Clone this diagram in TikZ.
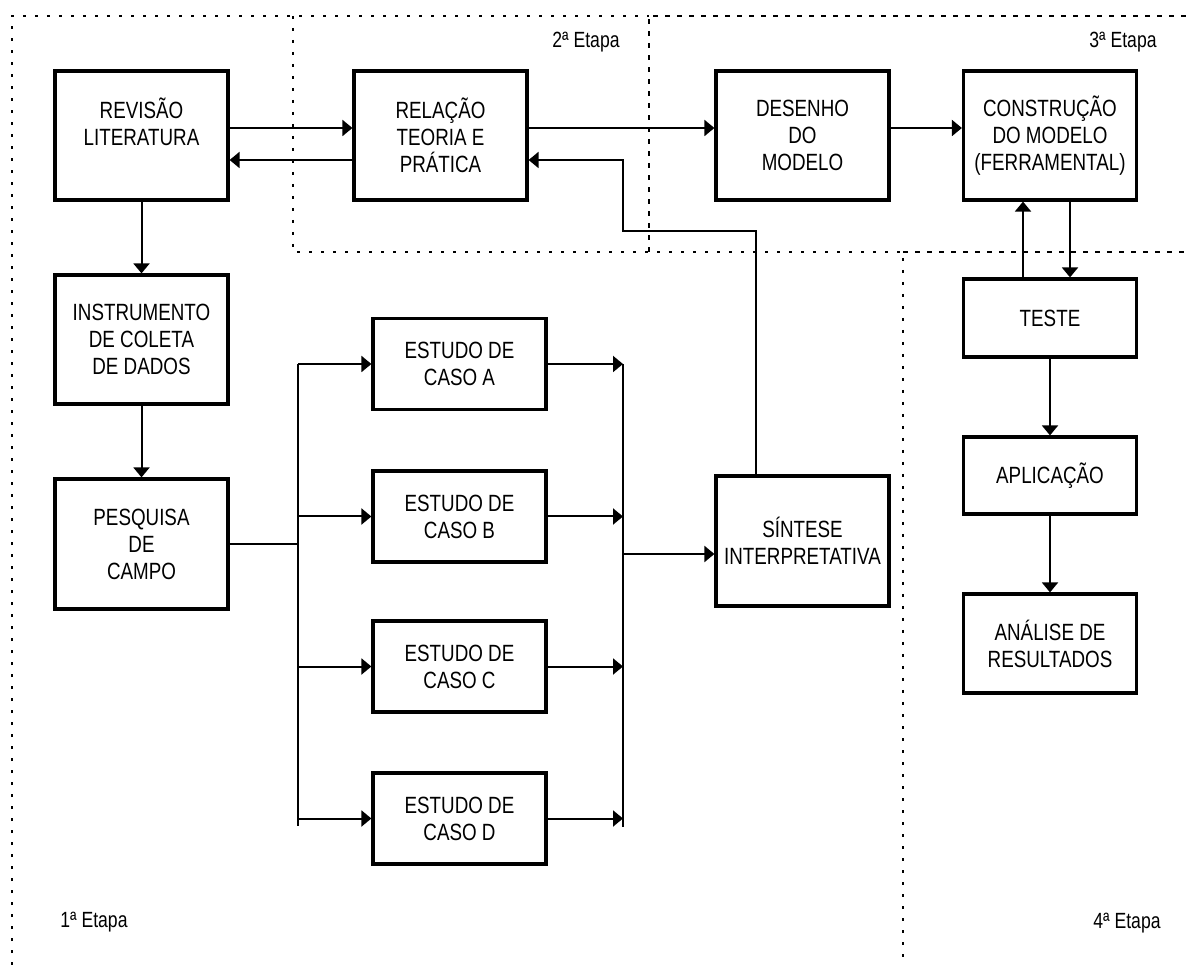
\documentclass[tikz,border=0pt]{standalone}
\usepackage{fontspec}
\setmainfont{Liberation Sans}[FakeStretch=0.8]
\usetikzlibrary{arrows.meta}

\begin{document}
\begin{tikzpicture}[x=1pt,y=-1pt,
        caixa/.style={draw,line width=3.2pt,minimum width=173pt,align=center,inner sep=2pt,
            font=\fontsize{23.5}{27}\selectfont},
        seta/.style={line width=2pt,-{Triangle[length=10pt,width=16pt]}},
        linha/.style={line width=2pt},
        pontos/.style={line width=2.6pt,dash pattern=on 2.6pt off 9.4pt},
        tracos/.style={line width=2.6pt,dash pattern=on 4.5pt off 7.5pt},
        etapa/.style={font=\fontsize{22}{26}\selectfont}]
            \useasboundingbox (0,0) rectangle (1187,965);
            % etapas
            \draw[pontos] (12,965) -- (12,16) -- (649,16);
            \draw[pontos] (293,16) -- (293,252) -- (903,252) -- (903,965);
            \draw[tracos] (649,252) -- (649,16) -- (1187,16);
            \draw[tracos] (903,252) -- (1187,252);
            \node[etapa] (e1) at (94,922) {1ª Etapa};
            \node[etapa] (e2) at (586,42) {2ª Etapa};
            \node[etapa] (e3) at (1123,42) {3ª Etapa};
            \node[etapa] (e4) at (1127,923) {4ª Etapa};
            % caixas
            \node[caixa,minimum height=129pt] (rev) at (141.5,135.5) {REVISÃO\\LITERATURA\\~};
            \node[caixa,minimum height=129pt] (rel) at (440.5,135.5) {RELAÇÃO\\TEORIA E\\PRÁTICA};
            \node[caixa,minimum height=129pt] (des) at (802.5,135.5) {DESENHO\\DO\\MODELO};
            \node[caixa,minimum height=129pt] (con) at (1050,135.5) {CONSTRUÇÃO\\DO MODELO\\(FERRAMENTAL)};
            \node[caixa,minimum height=129pt] (ins) at (141.5,339.5) {INSTRUMENTO\\DE COLETA\\DE DADOS};
            \node[caixa,minimum height=130pt] (pes) at (141.5,544) {PESQUISA\\DE\\CAMPO};
            \foreach \c/\y in {A/364,B/516.5,C/666.5,D/818.5}
                \node[caixa,minimum height=91pt] (est\c) at (459.5,\y) {ESTUDO DE\\CASO \c};
            \node[caixa,minimum height=130pt] (sin) at (802.5,541) {SÍNTESE\\INTERPRETATIVA};
            \node[caixa,minimum height=78pt] (tes) at (1050,318) {TESTE};
            \node[caixa,minimum height=77pt] (apl) at (1050,475.5) {APLICAÇÃO};
            \node[caixa,minimum height=99pt] (ana) at (1050,643.5) {ANÁLISE DE\\RESULTADOS};
            % pontos de apoio
            \coordinate (bl1) at (298,364);
            \coordinate (bl2) at (298,826);
            \coordinate (br1) at (623,364);
            \coordinate (br2) at (623,827);
            \coordinate (sai) at (623,554);
            \coordinate (volta) at (623,231);
            % ligacoes
            \draw[seta] ([yshift=7.5pt]rev.east) -- ([yshift=7.5pt]rel.west);
            \draw[seta] ([yshift=-24.5pt]rel.west) -- ([yshift=-24.5pt]rev.east);
            \draw[seta] ([yshift=7.5pt]rel.east) -- ([yshift=7.5pt]des.west);
            \draw[seta] ([yshift=7.5pt]des.east) -- ([yshift=7.5pt]con.west);
            \draw[seta] ([xshift=-46.5pt]sin.north) |- (volta) |- ([yshift=-24.5pt]rel.east);
            \draw[seta] (rev) -- (ins);
            \draw[seta] (ins) -- (pes);
            \draw[linha] (pes.east) -- (pes.east -| bl1);
            \draw[linha] (bl1) -- (bl2);
            \draw[linha] (br1) -- (br2);
            \foreach \c in {A,B,C,D} {
                \draw[seta] (bl1 |- est\c.west) -- (est\c.west);
                \draw[seta] (est\c.east) -- (br1 |- est\c.east);
            }
            \draw[seta] (sai) -- (sai -| sin.west);
            \draw[seta] ([xshift=-27pt]tes.north) -- ([xshift=-27pt]con.south);
            \draw[seta] ([xshift=20pt]con.south) -- ([xshift=20pt]tes.north);
            \draw[seta] (tes) -- (apl);
            \draw[seta] (apl) -- (ana);
        \end{tikzpicture}
\end{document}
